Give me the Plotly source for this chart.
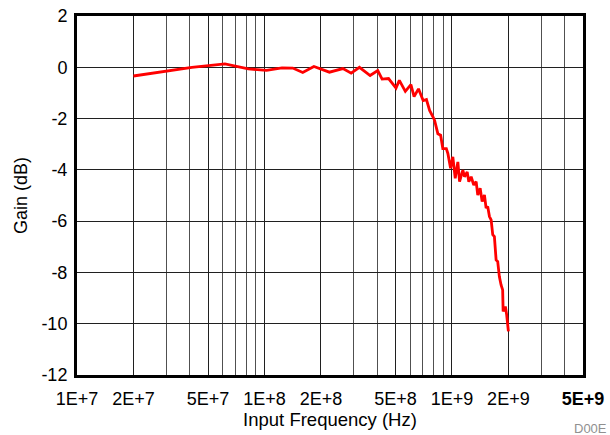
import plotly.graph_objects as go

# Measured gain response vs. input frequency
freq_hz = [
    2.0e7, 4.1e7, 6.15e7, 8.2e7, 1.025e8, 1.24e8, 1.415e8, 1.6e8, 1.835e8,
    2.22e8, 2.62e8, 2.9e8, 3.21e8, 3.66e8, 4.02e8, 4.24e8, 4.59e8,
    5.03e8, 5.24e8, 5.64e8, 6.04e8, 6.28e8, 6.63e8, 7.02e8, 7.31e8,
    7.60e8, 7.93e8, 8.08e8, 8.41e8, 8.70e8, 8.94e8, 9.33e8, 9.51e8,
    9.83e8, 1.011e9, 1.041e9, 1.075e9, 1.098e9, 1.143e9, 1.167e9,
    1.206e9, 1.230e9, 1.266e9, 1.307e9, 1.346e9, 1.373e9, 1.414e9,
    1.449e9, 1.490e9, 1.521e9, 1.551e9, 1.585e9, 1.618e9, 1.650e9,
    1.684e9, 1.720e9, 1.754e9, 1.790e9, 1.828e9, 1.864e9, 1.875e9,
    1.927e9, 1.958e9, 2.0e9,
]
gain_db = [
    -0.34, 0.0, 0.13, -0.06, -0.12, -0.02, -0.03, -0.20, 0.03,
    -0.19, -0.05, -0.23, 0.0, -0.32, -0.13, -0.46, -0.44,
    -0.81, -0.51, -0.94, -0.68, -1.14, -0.84, -1.30, -1.26,
    -1.68, -1.94, -2.07, -2.59, -2.65, -3.17, -3.17, -3.36,
    -3.94, -3.49, -4.33, -3.69, -4.46, -4.01, -4.27,
    -4.08, -4.46, -4.27, -4.59, -4.46, -4.98, -4.72,
    -5.24, -4.98, -5.49, -5.43, -5.82, -5.95, -6.53,
    -6.60, -7.51, -7.58, -8.16, -8.49, -8.68, -9.52,
    -9.33, -9.65, -10.3,
]

x_tick_vals = [1e7, 2e7, 5e7, 1e8, 2e8, 5e8, 1e9, 2e9, 5e9]
x_tick_text = ["1E+7", "2E+7", "5E+7", "1E+8", "2E+8", "5E+8", "1E+9", "2E+9", "<b>5E+9</b>"]
x_minor_vals = [m * 10 ** e for e in (7, 8, 9) for m in (3, 4, 6, 7, 8, 9)]
y_tick_vals = [2, 0, -2, -4, -6, -8, -10, -12]
y_tick_text = ["2", "0", "-2", "-4", "-6", "-8", "-10", "-12"]

font_family = "Liberation Sans, Arial, sans-serif"

fig = go.Figure()
fig.add_trace(go.Scatter(
    x=freq_hz, y=gain_db, mode="lines",
    line=dict(color="#ff0000", width=2.8),
    showlegend=False, hoverinfo="skip",
))

fig.update_layout(
    width=610, height=435,
    margin=dict(l=77, r=27, t=16, b=60, autoexpand=False),
    paper_bgcolor="white", plot_bgcolor="white",
    font=dict(family=font_family, size=18, color="black"),
)
fig.update_xaxes(
    type="log", range=[7, 9.69897], automargin=False,
    tickmode="array", tickvals=x_tick_vals, ticktext=x_tick_text,
    showgrid=True, gridcolor="#202020", gridwidth=1,
    minor=dict(tickmode="array", tickvals=x_minor_vals, showgrid=True,
               gridcolor="#505050", gridwidth=1, ticks=""),
    ticks="", ticklen=0, ticklabelstandoff=5,
    showline=True, linecolor="black", linewidth=3, mirror=True,
    zeroline=False,
    title=dict(text="Input Frequency (Hz)", font=dict(size=18.5), standoff=4),
    tickfont=dict(size=18),
)
fig.update_yaxes(
    range=[-12, 2], automargin=False,
    tickmode="array", tickvals=y_tick_vals, ticktext=y_tick_text,
    showgrid=True, gridcolor="#202020", gridwidth=1,
    ticks="", ticklen=0, ticklabelstandoff=3,
    showline=True, linecolor="black", linewidth=3, mirror=True,
    zeroline=False,
    title=dict(text="Gain (dB)", font=dict(size=18), standoff=10),
    tickfont=dict(size=18),
)

fig.add_annotation(
    text="D00E", xref="paper", yref="paper", x=1.0, y=0, yshift=-53, xshift=26,
    xanchor="right", yanchor="middle", showarrow=False,
    font=dict(size=13, color="#909090"),
)

fig.write_html("out.html")
